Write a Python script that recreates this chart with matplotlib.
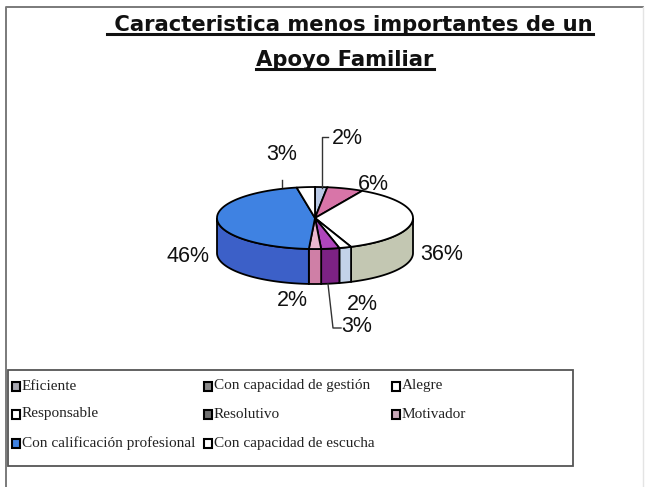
import numpy as np
import matplotlib
matplotlib.use("Agg")
import matplotlib.pyplot as plt
from matplotlib.patches import Polygon, Rectangle

# datos
categorias = ["Eficiente", "Con capacidad de gestión", "Alegre", "Responsable",
              "Resolutivo", "Motivador", "Con calificación profesional",
              "Con capacidad de escucha"]
valores = [2, 6, 36, 2, 3, 2, 46, 3]
etiquetas = ["2%", "6%", "36%", "2%", "3%", "2%", "46%", "3%"]

# estilos
color_sup = ["#b9c9e6", "#d875a8", "#ffffff", "#ffffff", "#b046bc", "#e9b7cf", "#3f82e2", "#ffffff"]
color_lat = ["#9fb0d0", "#b85c8c", "#c3c7b2", "#c3d2e8", "#7c2284", "#cf7fa6", "#3c60c8", "#d8d8d8"]
color_ley = ["#a8a8b0", "#8a8a8a", "#ffffff", "#ffffff", "#707070", "#c8a8b8", "#3f82e2", "#ffffff"]
pos_etq = [(347, 138), (373, 184), (442, 254), (362, 304), (357, 327),
           (292, 301), (188, 256), (282, 155)]

W, H = 647, 487
cx, cy, rx, ry, prof = 315, 218, 98, 31, 35

fig = plt.figure(figsize=(W / 100, H / 100), dpi=100)
ax = fig.add_axes([0, 0, 1, 1])
ax.set_xlim(0, W)
ax.set_ylim(H, 0)
ax.axis("off")

# marco exterior (solo se ve arriba y a la izquierda)
ax.plot([6, 6, 643], [H, 7, 7], color="#7a7a7a", lw=1.4)
ax.plot([643, 643], [7, H], color="#e4e4e4", lw=1)

# angulos: desde las 12 en sentido horario
frac = np.array(valores) / sum(valores)
acum = np.concatenate([[0], np.cumsum(frac)])
ang_ini = 90 - acum[:-1] * 360
ang_fin = 90 - acum[1:] * 360


def punto(t, dy=0):
    r = np.radians(t)
    return cx + rx * np.cos(r), cy - ry * np.sin(r) + dy


# caras laterales (solo la parte frontal: angulos entre -180 y 0)
for i in range(len(valores)):
    a, b = ang_fin[i], ang_ini[i]
    for off in (0, -360):
        lo, hi = max(a, -180 + off), min(b, off)
        if hi <= lo:
            continue
        ts = np.linspace(lo, hi, 60)
        arriba = [punto(t) for t in ts]
        abajo = [punto(t, prof) for t in ts[::-1]]
        ax.add_patch(Polygon(arriba + abajo, closed=True, fc=color_lat[i], ec="black", lw=1.3))

# cara superior
for i in range(len(valores)):
    ts = np.linspace(ang_ini[i], ang_fin[i], 100)
    pts = [(cx, cy)] + [punto(t) for t in ts]
    ax.add_patch(Polygon(pts, closed=True, fc=color_sup[i], ec="black", lw=1.3))

# etiquetas de porcentaje
for i, (x, y) in enumerate(pos_etq):
    ax.text(x, y, etiquetas[i], ha="center", va="center", fontsize=15.5,
            family="Liberation Sans", color="#111111")

# lineas guia
ax.plot([328, 322, 322], [137, 137, 188], color="#333333", lw=1)
ax.plot([282, 282], [180, 187], color="#333333", lw=1)
ax.plot([328, 333, 341], [284, 328, 328], color="#333333", lw=1)

# titulo subrayado
titulos = [(350, 25, " Caracteristica menos importantes de un"), (345, 60, "Apoyo Familiar")]
fig.canvas.draw()
for x, y, s in titulos:
    t = ax.text(x, y, s, ha="center", va="center", fontsize=15.2, weight="bold",
                family="DejaVu Sans", color="#111111")
    fig.canvas.draw()
    bb = t.get_window_extent().transformed(ax.transData.inverted())
    ax.plot([bb.x0, bb.x1], [y + 9, y + 9], color="#111111", lw=2.2)

# leyenda
ax.add_patch(Rectangle((8, 370), 565, 96, fill=False, ec="#555555", lw=1.3))
cols_x = [12, 204, 392]
filas_y = [386, 414, 443]
for i, nombre in enumerate(categorias):
    fx = cols_x[i % 3]
    fy = filas_y[i // 3]
    ax.add_patch(Rectangle((fx, fy - 4.5), 8, 9, fc=color_ley[i], ec="black", lw=1.5))
    ax.text(fx + 10, fy, nombre, ha="left", va="center", fontsize=11,
            family="Liberation Serif", color="#222222")

fig.savefig("out.png", dpi=100)
